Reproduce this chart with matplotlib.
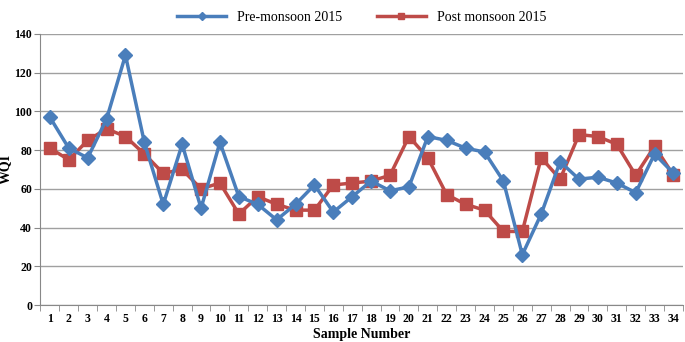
import matplotlib
matplotlib.use("Agg")
import matplotlib.pyplot as plt

samples = list(range(1, 35))
pre_monsoon = [97, 81, 76, 96, 129, 84, 52, 83, 50, 84, 56, 52, 44, 52, 62, 48, 56,
               64, 59, 61, 87, 85, 81, 79, 64, 26, 47, 74, 65, 66, 63, 58, 78, 68]
post_monsoon = [81, 75, 85, 91, 87, 78, 68, 70, 60, 63, 47, 56, 52, 49, 49, 62, 63,
                64, 67, 87, 76, 57, 52, 49, 38, 38, 76, 65, 88, 87, 83, 67, 82, 67]

plt.rcParams['font.family'] = ['Liberation Serif', 'DejaVu Serif']

fig = plt.figure(figsize=(6.85, 3.42), dpi=100)
ax = fig.add_axes([0.059, 0.108, 0.938, 0.793])

ax.plot(samples, pre_monsoon, color='#4A7EBB', lw=2.5, marker='D', ms=7,
        label='Pre-monsoon 2015', zorder=3)
ax.plot(samples, post_monsoon, color='#BE4B48', lw=2.5, marker='s', ms=8,
        label='Post monsoon 2015', zorder=2)

ax.set_xlim(0.5, 34.5)
ax.set_ylim(0, 140)
ax.set_yticks(range(0, 141, 20))
ax.set_xticks(samples)
ax.set_xticks([s + 0.5 for s in range(0, 35)], minor=True)
ax.tick_params(axis='x', which='major', length=0, labelsize=8.5, pad=6)
ax.tick_params(axis='x', which='minor', length=4, color='#888888')
ax.tick_params(axis='y', length=4, color='#888888', labelsize=8.5, pad=2)
for lab in ax.get_xticklabels() + ax.get_yticklabels():
    lab.set_fontweight('bold')

ax.grid(axis='y', color='#a0a0a0', lw=1)
ax.set_axisbelow(True)
for side in ['top', 'right']:
    ax.spines[side].set_visible(False)
ax.spines['left'].set_color('#888888')
ax.spines['bottom'].set_color('#888888')

ax.set_xlabel('Sample Number', fontsize=10, fontweight='bold', labelpad=2)
ax.set_ylabel('WQI', fontsize=10, fontweight='bold')
ax.yaxis.set_label_coords(-0.044, 0.5)

ax.legend(loc='lower center', bbox_to_anchor=(0.5, 1.0), ncol=2, frameon=False,
          fontsize=10, handlelength=3.5, columnspacing=2.5, borderaxespad=0.3,
          markerscale=0.6)

fig.savefig('out.png', dpi=100)
